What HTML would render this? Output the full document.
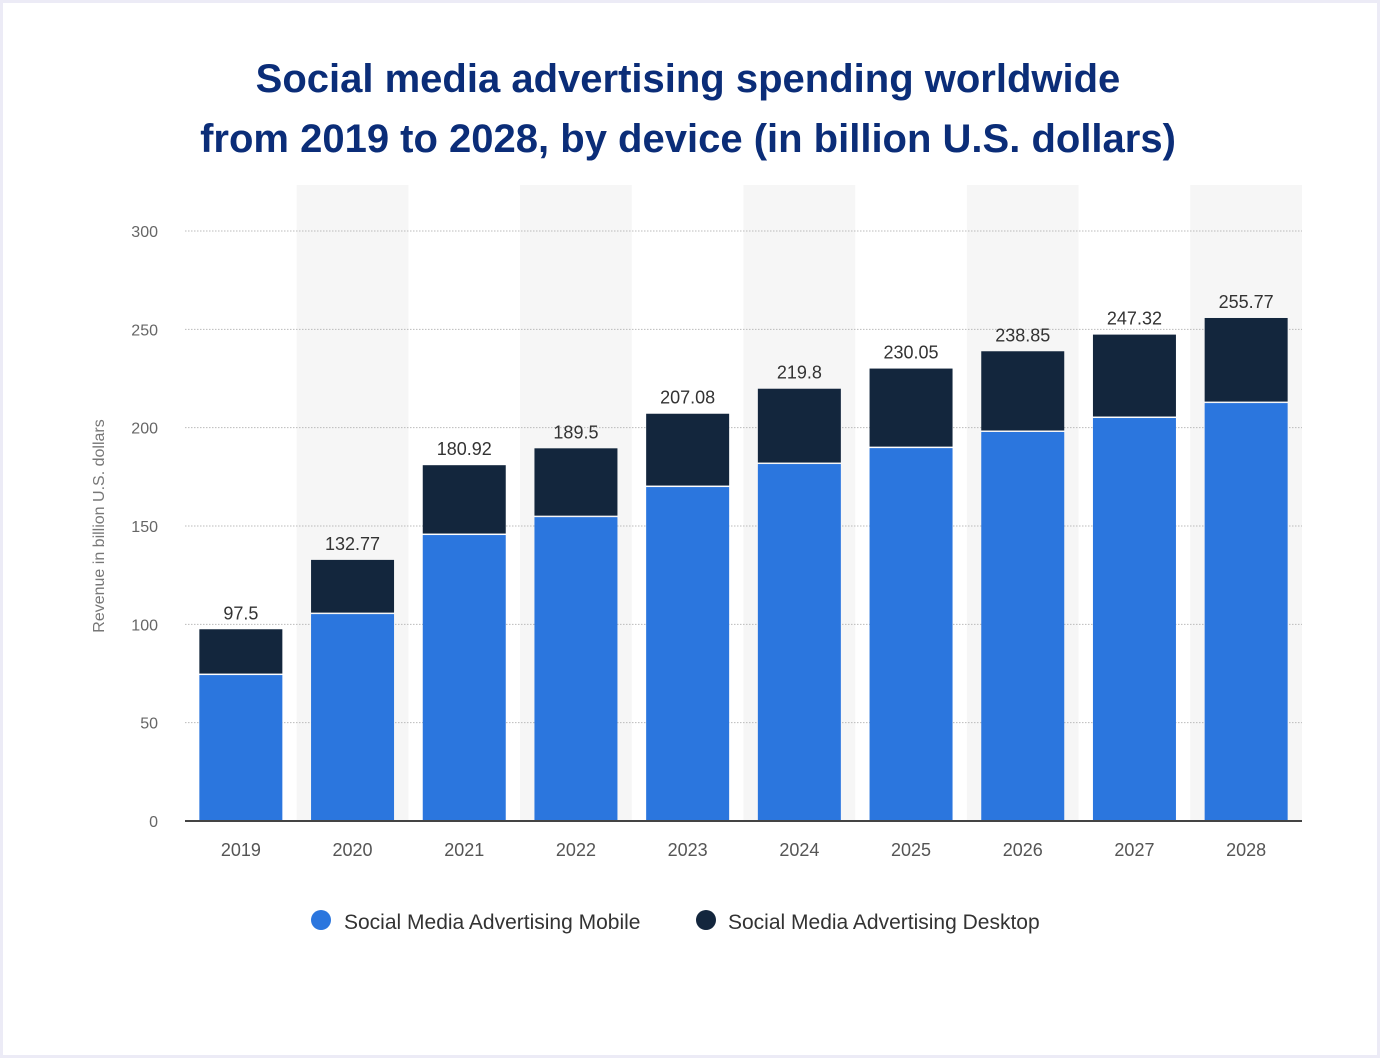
<!DOCTYPE html>
<html><head><meta charset="utf-8"><style>
html,body{margin:0;padding:0;background:#ecebf6;}
#card{position:absolute;left:3px;top:3px;width:1374px;height:1052px;background:#fff;}
svg{position:absolute;left:0;top:0;}
</style></head><body>
<div id="card"></div>
<svg id="chart" width="1380" height="1058" font-family="'Liberation Sans', sans-serif">
<text x="688" y="92" text-anchor="middle" font-size="40" font-weight="bold" fill="#0b2d78">Social media advertising spending worldwide</text>
<text x="688" y="152" text-anchor="middle" font-size="40" font-weight="bold" fill="#0b2d78">from 2019 to 2028, by device (in billion U.S. dollars)</text>
<g id="plot"></g>
<text transform="translate(104,526) rotate(-90)" text-anchor="middle" font-size="16" fill="#777">Revenue in billion U.S. dollars</text>
<circle cx="321" cy="920" r="10" fill="#2b76de"/>
<text x="344" y="929" font-size="21" fill="#333">Social Media Advertising Mobile</text>
<circle cx="706" cy="920" r="10" fill="#13263d"/>
<text x="728" y="929" font-size="21" fill="#333">Social Media Advertising Desktop</text>
</svg>
<script>
const categories=["2019","2020","2021","2022","2023","2024","2025","2026","2027","2028"];
const mobile=[74.2,105.2,145.4,154.5,169.8,181.5,189.6,197.8,204.9,212.5];
const totals=[97.5,132.77,180.92,189.5,207.08,219.8,230.05,238.85,247.32,255.77];
const totalLabels=["97.5","132.77","180.92","189.5","207.08","219.8","230.05","238.85","247.32","255.77"];
const yTicks=[0,50,100,150,200,250,300];
const desktop=totals.map((t,i)=>t-mobile[i]);
const X0=185,X1=1302,Y0=821,Y1=231,YMAX=300;
const band=(X1-X0)/categories.length,bw=83;
const y=v=>Y0-(v/YMAX)*(Y0-Y1);
const xc=i=>X0+band*(i+0.5);
const g=document.getElementById('plot');
const ns='http://www.w3.org/2000/svg';
function mk(t,a){const e=document.createElementNS(ns,t);for(const k in a)e.setAttribute(k,a[k]);g.appendChild(e);return e;}
categories.forEach((c,i)=>{if(i%2==1){const r=mk('rect',{x:X0+band*i,y:185,width:band,height:Y0-185,fill:'#f6f6f6'});

}});
yTicks.forEach(t=>{if(t>0){const l=mk('line',{x1:X0,x2:X1,y1:y(t),y2:y(t),stroke:'#bbb','stroke-dasharray':'1.5,1.5'});

}
const tx=mk('text',{x:158,y:y(t)+6,'text-anchor':'end','font-size':16,fill:'#666'});tx.textContent=t;

});
categories.forEach((c,i)=>{
const x=xc(i)-bw/2;
const m=mk('rect',{x:x,y:y(mobile[i]),width:bw,height:Y0-y(mobile[i]),fill:'#2b76de'});


const d=mk('rect',{x:x,y:y(totals[i]),width:bw,height:y(mobile[i])-y(totals[i])-1.5,fill:'#13263d'});


const lb=mk('text',{x:xc(i),y:y(totals[i])-10,'text-anchor':'middle','font-size':18,fill:'#333'});lb.textContent=totalLabels[i];


const xl=mk('text',{x:xc(i),y:856,'text-anchor':'middle','font-size':18,fill:'#555'});xl.textContent=c;


});
const b=mk('line',{x1:X0,x2:X1,y1:Y0,y2:Y0,stroke:'#444','stroke-width':2});


</script>
</body></html>
